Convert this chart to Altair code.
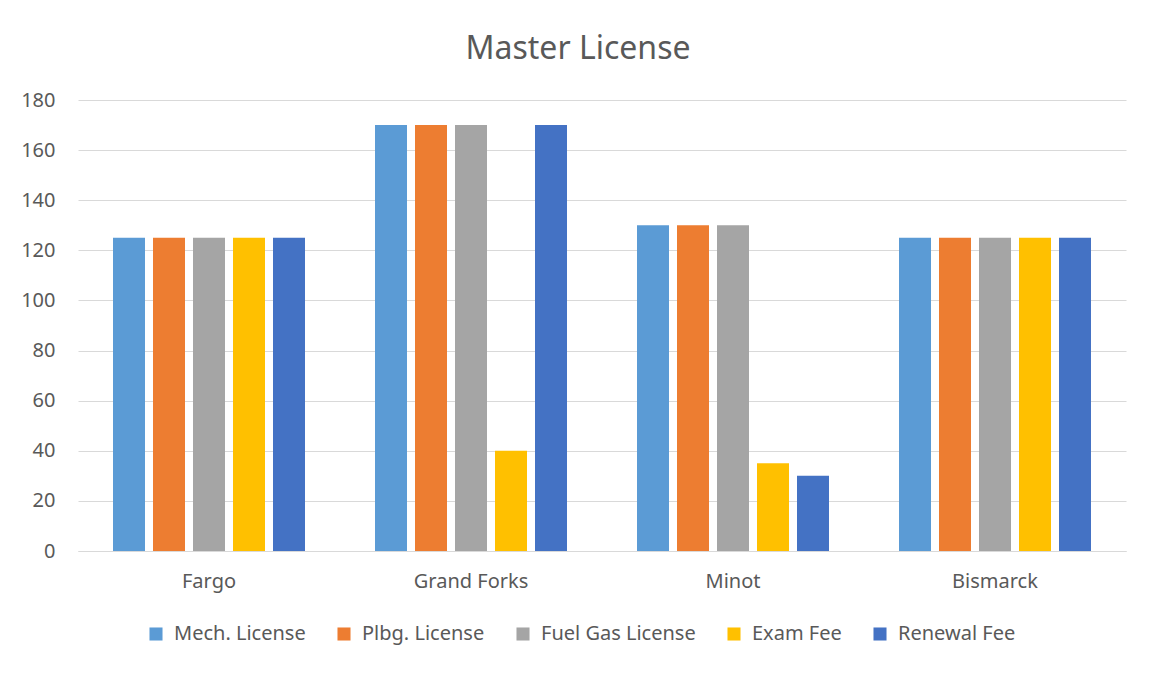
import altair as alt
import pandas as pd

cities = ["Fargo", "Grand Forks", "Minot", "Bismarck"]
series = ["Mech. License", "Plbg. License", "Fuel Gas License", "Exam Fee", "Renewal Fee"]
colors = ["#5B9BD5", "#ED7D31", "#A5A5A5", "#FFC000", "#4472C4"]
values = {
    "Mech. License":    [125, 170, 130, 125],
    "Plbg. License":    [125, 170, 130, 125],
    "Fuel Gas License": [125, 170, 130, 125],
    "Exam Fee":         [125, 40, 35, 125],
    "Renewal Fee":      [125, 170, 30, 125],
}

rows = []
for s in series:
    for c, v in zip(cities, values[s]):
        rows.append({"city": c, "series": s, "value": v})
df = pd.DataFrame(rows)

FONT = "Noto Sans"
GREY = "#595959"

chart = alt.Chart(df).mark_bar().encode(
    x=alt.X("city:N", sort=cities, title=None,
            scale=alt.Scale(paddingInner=0, paddingOuter=0),
            axis=alt.Axis(labelAngle=0, ticks=False, labelPadding=20,
                          labelFontSize=20, labelColor=GREY, labelFont=FONT,
                          domainColor="#D9D9D9", grid=False)),
    xOffset=alt.XOffset("series:N", sort=series,
                        scale=alt.Scale(paddingInner=0.2, paddingOuter=0.875)),
    y=alt.Y("value:Q", title=None,
            scale=alt.Scale(domain=[0, 180]),
            axis=alt.Axis(values=list(range(0, 181, 20)), ticks=False, domain=False,
                          labelFontSize=20, labelColor=GREY, labelFont=FONT,
                          labelPadding=23, gridColor="#D9D9D9")),
    color=alt.Color("series:N", sort=series, title=None,
                    scale=alt.Scale(domain=series, range=colors),
                    legend=alt.Legend(orient="none", legendX=68, legendY=524,
                                      direction="horizontal", symbolType="square",
                                      symbolSize=170, symbolStrokeWidth=0,
                                      labelFontSize=20, labelColor=GREY, labelFont=FONT,
                                      columnPadding=28, labelOffset=8)),
).properties(
    width=1048, height=451,
    title=alt.Title("Master License", fontSize=32, font=FONT, color=GREY,
                    fontWeight="normal", offset=24, dx=-24),
    autosize=alt.AutoSizeParams(type="none"),
    padding={"left": 70, "top": 92, "right": 19, "bottom": 116},
).configure_view(stroke=None)

chart.save("out.html", embed_options={"renderer": "svg", "actions": False})
